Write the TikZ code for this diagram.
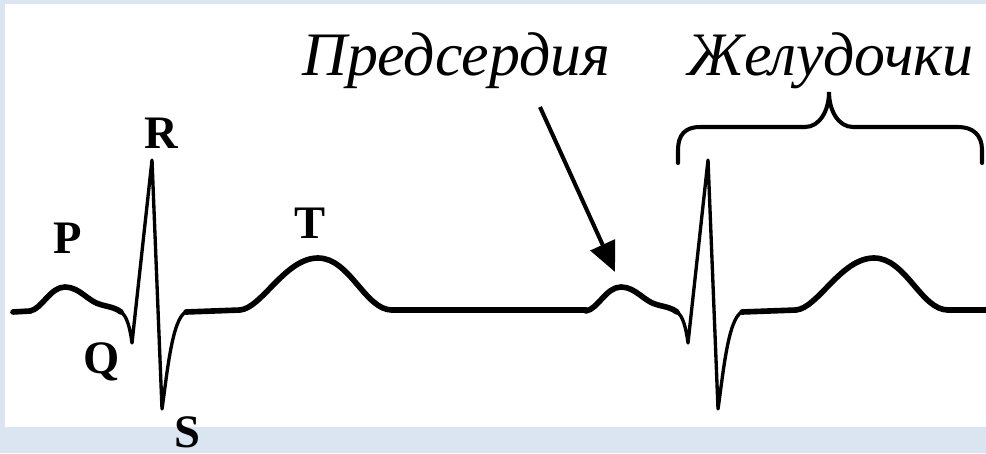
\documentclass[tikz,border=0pt]{standalone}
\usepackage{fontspec}
\setmainfont{Liberation Serif}
\usetikzlibrary{arrows.meta}
\definecolor{slideblue}{RGB}{219,229,241}
\tikzset{
  wave/.style={line width=3.2pt, line cap=round, line join=round},
  spike/.style={line width=1.9pt, line cap=round, line join=round},
  pointer/.style={-{Triangle[length=17pt,width=15pt]}, line width=2.3pt},
  bracket/.style={line width=2.3pt, line cap=round},
  wavename/.style={font=\fontsize{26.5}{26.5}\selectfont\bfseries, anchor=base, inner sep=0pt},
  chamber/.style={font=\fontsize{35.2}{35.2}\selectfont\itshape, anchor=base west, inner sep=0pt}
}

\begin{document}
\begin{tikzpicture}[x=0.02cm, y=-0.02cm]
  \useasboundingbox (0,0) rectangle (986,453);
  \fill[slideblue] (0,0) rectangle (986,453);
  \fill[white] (5,4) rectangle (986,427);

  % isoline between the beats
  \draw[wave] (13,312) -- (30,311);
  \draw[wave] (392,310) -- (586,310);
  \draw[wave] (948,310) -- (986,310);

  % one PQRST complex, drawn twice
  \foreach \dx in {0,556} {
    \draw[wave] ({\dx+30},311) .. controls ({\dx+42},309) and ({\dx+50},287) .. ({\dx+65},287)
      .. controls ({\dx+80},287) and ({\dx+88},302) .. ({\dx+102},305)
      .. controls ({\dx+110},307) and ({\dx+116},308) .. ({\dx+121},312);
    \draw[spike] ({\dx+121},312) .. controls ({\dx+127},316) and ({\dx+130},328) .. ({\dx+132},343)
      -- ({\dx+152},160) -- ({\dx+162},409)
      .. controls ({\dx+167},375) and ({\dx+172},318) .. ({\dx+186},312);
    \draw[wave] ({\dx+186},312) -- ({\dx+240},310)
      .. controls ({\dx+262},308) and ({\dx+285},258) .. ({\dx+318},258)
      .. controls ({\dx+350},258) and ({\dx+365},310) .. ({\dx+392},310);
  }

  % wave letters
  \node[wavename] (lblP) at (68,253) {P};
  \node[wavename] (lblQ) at (102,373) {Q};
  \node[wavename] (lblR) at (161,148) {R};
  \node[wavename] (lblS) at (187,447) {S};
  \node[wavename] (lblT) at (310,238) {T};

  % chambers
  \node[chamber] (atria) at (302,75) {Предсердия};
  \node[chamber] (ventricles) at (687,75) {Желудочки};

  \coordinate (atriatail) at (540,107);
  \coordinate (ptop) at (615,272);
  \draw[pointer] (atriatail) -- (ptop);

  \draw[bracket] (678,163) -- (678,150) .. controls (678,135) and (685,127) .. (700,127)
    -- (805,127) .. controls (820,127) and (829,110) .. (829,92)
    .. controls (829,110) and (838,127) .. (853,127)
    -- (958,127) .. controls (973,127) and (982,135) .. (982,150) -- (982,163);
\end{tikzpicture}
\end{document}
